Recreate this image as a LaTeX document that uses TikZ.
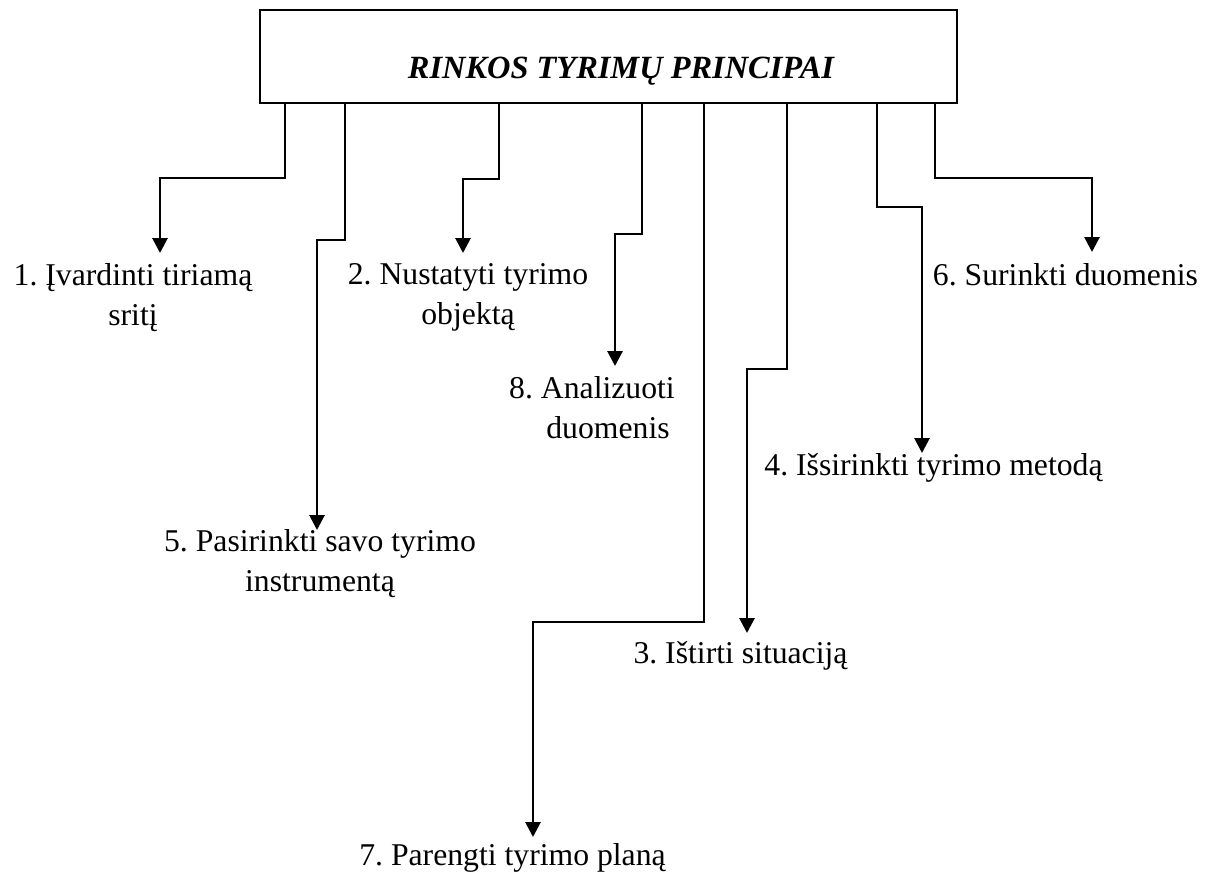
\documentclass[tikz,border=0pt]{standalone}
\usepackage{fontspec}
\setmainfont{Liberation Serif}
\usetikzlibrary{arrows.meta}
\begin{document}
\frenchspacing
\begin{tikzpicture}[x=1pt,y=-1pt,line width=2.8pt,
  conn/.style={-{Triangle[length=15pt,width=15pt]},line join=miter},
  lbl/.style={font=\fontsize{31.7}{40}\selectfont,align=center,inner sep=0pt,anchor=north},
  headbox/.style={draw,minimum width=697pt,minimum height=93pt,inner sep=0pt}]
\useasboundingbox (0,0) rectangle (1213,879);
\node[headbox] (top) at (608.5,56.5) {};
\node[font=\fontsize{32.4}{38}\selectfont\bfseries\itshape,anchor=base,inner sep=0pt] (title) at (621,78) {RINKOS TYRIMŲ PRINCIPAI};

\node[lbl,outer ysep=10.4pt] (l1) at (133,253) {1. Įvardinti tiriamą\\sritį};
\node[lbl,outer ysep=10.4pt] (l2) at (468,253) {2. Nustatyti tyrimo\\objektą};
\node[lbl,outer ysep=-1pt] (l5) at (320,530) {5. Pasirinkti savo tyrimo\\instrumentą};
\node[lbl,outer ysep=10.4pt] (l8) at (592,366) {8. Analizuoti\\\hspace*{32pt}duomenis};
\node[lbl,outer ysep=8.4pt] (l3) at (740.5,633) {3. Ištirti situaciją};
\node[lbl,outer ysep=0.4pt] (l4) at (933.5,453) {4. Išsirinkti tyrimo metodą};
\node[lbl,outer ysep=11.4pt] (l6) at (1065.5,252) {6. Surinkti duomenis};
\node[lbl,outer ysep=6.4pt] (l7) at (512.5,837) {7. Parengti tyrimo planą};

\draw[conn] (285,0 |- top.south) -- (285,178) -- (160,178) -- (160,0 |- l1.north);
\draw[conn] (345,0 |- top.south) -- (345,240) -- (317,240) -- (317,0 |- l5.north);
\draw[conn] (499,0 |- top.south) -- (499,179) -- (463,179) -- (463,0 |- l2.north);
\draw[conn] (642,0 |- top.south) -- (642,234) -- (615,234) -- (615,0 |- l8.north);
\draw[conn] (704,0 |- top.south) -- (704,622) -- (533,622) -- (533,0 |- l7.north);
\draw[conn] (787,0 |- top.south) -- (787,369) -- (747,369) -- (747,0 |- l3.north);
\draw[conn] (877,0 |- top.south) -- (877,207) -- (922,207) -- (922,0 |- l4.north);
\draw[conn] (935,0 |- top.south) -- (935,178) -- (1092,178) -- (1092,0 |- l6.north);
\end{tikzpicture}
\end{document}
